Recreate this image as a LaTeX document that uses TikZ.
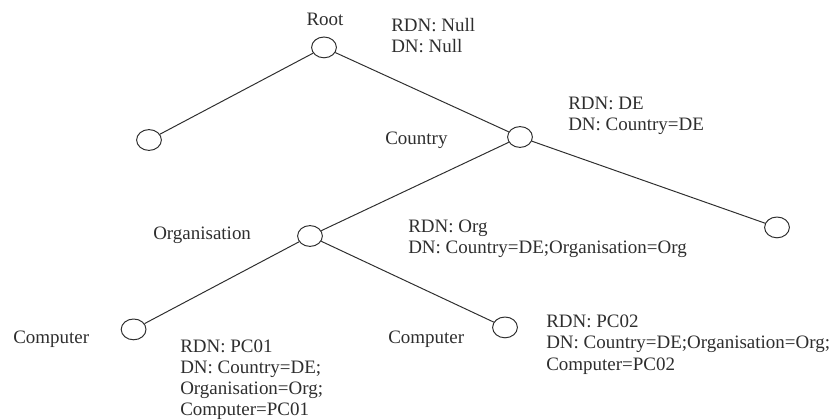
\documentclass[tikz,border=0pt]{standalone}
\usepackage{fontspec}
\setmainfont{Liberation Serif}
\definecolor{dirink}{HTML}{2E2E2E}
\tikzset{
  dir entry/.style={ellipse, draw=dirink, line width=0.7pt,
    minimum width=0.62cm, minimum height=0.52cm, inner sep=0pt},
  dir edge/.style={draw=dirink, line width=0.7pt},
  class label/.style={font=\fontsize{13.5pt}{15pt}\selectfont,
    text=dirink, inner sep=0pt},
  name label/.style={class label, align=left, anchor=north west},
}
\usetikzlibrary{shapes.geometric}

\begin{document}
\begin{tikzpicture}[x=1cm, y=1cm]
  \useasboundingbox (0,0) rectangle (20.9,10.475);

  % Directory entries.
  \node[dir entry] (root) at (8.10,9.29) {};
  \node[dir entry] (leaf1) at (3.725,6.975) {};
  \node[dir entry] (country) at (13.00,7.05) {};
  \node[dir entry] (leaf2) at (19.425,4.79) {};
  \node[dir entry] (org) at (7.75,4.575) {};
  \node[dir entry] (pc1) at (3.34,2.24) {};
  \node[dir entry] (pc2) at (12.625,2.29) {};

  \draw[dir edge] (root) -- (leaf1);
  \draw[dir edge] (root) -- (country);
  \draw[dir edge] (country) -- (org);
  \draw[dir edge] (country) -- (leaf2);
  \draw[dir edge] (org) -- (pc1);
  \draw[dir edge] (org) -- (pc2);

  % Object classes.
  \node[class label, anchor=north] (rootclass) at (8.125,10.15) {Root};
  \node[class label, anchor=north west] (countryclass) at (9.625,7.175) {Country};
  \node[class label, anchor=north west] (orgclass) at (3.825,4.80) {Organisation};
  \node[class label, anchor=north west] (pc1class) at (0.325,2.20) {Computer};
  \node[class label, anchor=north west] (pc2class) at (9.70,2.20) {Computer};

  % Relative and distinguished names.
  \node[name label] (rootname) at (9.775,10.025)
    {RDN: Null\\DN: Null};
  \node[name label] (countryname) at (14.20,8.05)
    {RDN: DE\\DN: Country=DE};
  \node[name label] (orgname) at (10.20,4.975)
    {RDN: Org\\DN: Country=DE;Organisation=Org};
  \node[name label] (pc1name) at (4.50,1.99)
    {RDN: PC01\\DN: Country=DE;\\Organisation=Org;\\Computer=PC01};
  \node[name label] (pc2name) at (13.65,2.60)
    {RDN: PC02\\DN: Country=DE;Organisation=Org;\\Computer=PC02};
\end{tikzpicture}
\end{document}
